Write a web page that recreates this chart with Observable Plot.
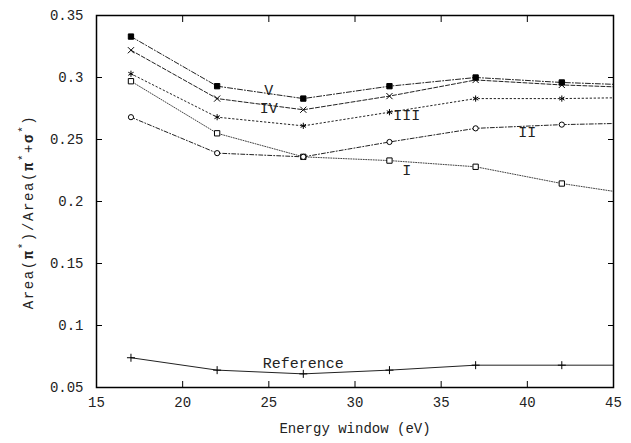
<!DOCTYPE html>
<html>
<head>
<meta charset="utf-8">
<script src="https://cdn.jsdelivr.net/npm/d3@7"></script>
<script src="https://cdn.jsdelivr.net/npm/@observablehq/plot@0.6"></script>
<style>
  html, body { margin: 0; padding: 0; background: #fff; }
</style>
</head>
<body>
<div id="chart"></div>
<script>
// ---- data ----
const energy = [17, 22, 27, 32, 37, 42, 47];
const seriesV   = [0.333, 0.293, 0.283, 0.293, 0.300, 0.296, 0.2935];
const seriesIV  = [0.322, 0.283, 0.274, 0.285, 0.298, 0.294, 0.2915];
const seriesIII = [0.303, 0.268, 0.261, 0.272, 0.283, 0.283, 0.284];
const seriesI   = [0.297, 0.255, 0.236, 0.233, 0.228, 0.2145, 0.204];
const seriesII  = [0.268, 0.239, 0.236, 0.248, 0.259, 0.262, 0.2635];
const seriesRef = [0.074, 0.064, 0.061, 0.064, 0.068, 0.068, 0.068];

const labelText = ["V", "IV", "III", "II", "I", "Reference"];
const labelX    = [25, 25, 33, 40, 33, 27];
const labelY    = [0.290, 0.275, 0.270, 0.2556, 0.225, 0.0694];

const xTicks = [15, 20, 25, 30, 35, 40, 45];
const xTickLabels = ["15", "20", "25", "30", "35", "40", "45"];
const yTicks = [0.05, 0.1, 0.15, 0.2, 0.25, 0.3, 0.35];
const yTickLabels = ["0.05", "0.1", "0.15", "0.2", "0.25", "0.3", "0.35"];

const xTitle = "Energy window (eV)";

// ---- build tables ----
const toRows = (name, vals) => energy.map((x, i) => ({series: name, x, y: vals[i]}));
const rowsV = toRows("V", seriesV);
const rowsIV = toRows("IV", seriesIV);
const rowsIII = toRows("III", seriesIII);
const rowsI = toRows("I", seriesI);
const rowsII = toRows("II", seriesII);
const rowsRef = toRows("Reference", seriesRef);
const labels = labelText.map((t, i) => ({t, x: labelX[i], y: labelY[i]}));

const FONT = "'Liberation Mono', 'DejaVu Sans Mono', monospace";
const ink = "#222";

const lineOpts = (dash, extra = {}) => ({x: "x", y: "y", stroke: ink, strokeWidth: 1, strokeDasharray: dash, clip: true, ...extra});
const dotOpts = (symbol, fill, r, extra = {}) => ({x: "x", y: "y", symbol, fill, stroke: "black", strokeWidth: 1, r, clip: true, ...extra});

const svg = Plot.plot({
  width: 631,
  height: 443,
  marginLeft: 96,
  marginRight: 18,
  marginTop: 15,
  marginBottom: 56,
  style: {fontFamily: FONT, fontSize: "14px", color: "black", background: "white"},
  x: {domain: [15, 45]},
  y: {domain: [0.05, 0.35]},
  marks: [
    Plot.axisX({anchor: "bottom", ticks: xTicks, tickSize: -6, tickPadding: 16,
      tickFormat: d => xTickLabels[xTicks.indexOf(d)], label: null, fill: ink, letterSpacing: "2.2px"}),
    Plot.axisX({anchor: "top", ticks: xTicks, tickSize: -6, fill: "none", label: null}),
    Plot.axisY({anchor: "left", ticks: yTicks, tickSize: -6, tickPadding: 19,
      tickFormat: d => yTickLabels[yTicks.indexOf(d)], label: null, fill: ink, letterSpacing: "1.6px"}),
    Plot.axisY({anchor: "right", ticks: yTicks, tickSize: -6, fill: "none", label: null}),

    Plot.line(rowsV, lineOpts("5,2,1,2")),
    Plot.line(rowsIV, lineOpts("4,2")),
    Plot.line(rowsIII, lineOpts("1.5,2.5")),
    Plot.line(rowsI, lineOpts("1,1.5", {stroke: "#444"})),
    Plot.line(rowsII, lineOpts("4,2,1,2")),
    Plot.line(rowsRef, lineOpts(null)),

    Plot.dot(rowsV, dotOpts("square", "black", 3)),
    Plot.dot(rowsIV, dotOpts("times", "none", 2.9)),
    Plot.dot(rowsIII, dotOpts("asterisk", "none", 2.9)),
    Plot.dot(rowsI, dotOpts("square", "white", 3)),
    Plot.dot(rowsII, dotOpts("circle", "white", 2.6)),
    Plot.dot(rowsRef, dotOpts("plus", "none", 2.7)),

    Plot.text(labels, {x: "x", y: "y", text: "t", fontSize: 15, fill: ink, textAnchor: "middle",
      fontFamily: FONT, letterSpacing: "1px"}),

    Plot.frame({stroke: "black", strokeWidth: 1.5}),
    Plot.text([xTitle], {text: d => d, frameAnchor: "bottom", dy: 45, fontSize: 14, fill: ink,
      fontFamily: FONT, letterSpacing: "2.3px"})
  ]
});

// y-axis title with superscript asterisks (real text)
const yt = d3.select(svg).append("text")
  .attr("transform", "translate(33,212) rotate(-90)")
  .attr("text-anchor", "middle")
  .attr("font-family", FONT)
  .attr("font-size", 14)
  .attr("letter-spacing", "1.6px")
  .attr("fill", ink);
const parts = [
  ["Area(", 0, false], ["π", 0, false], ["*", -7, true], [")/Area(", 7, false],
  ["π", 0, false], ["*", -7, true], ["+", 7, false], ["σ", 0, false], ["*", -7, true], [")", 7, false]
];
for (const [t, dy, sup] of parts) {
  const ts = yt.append("tspan").text(t);
  if (dy) ts.attr("dy", dy);
  if (sup) ts.attr("font-size", 11);
  if (t === "π" || t === "σ") ts.attr("font-weight", "bold");
}

document.getElementById("chart").appendChild(svg);
</script>
</body>
</html>
